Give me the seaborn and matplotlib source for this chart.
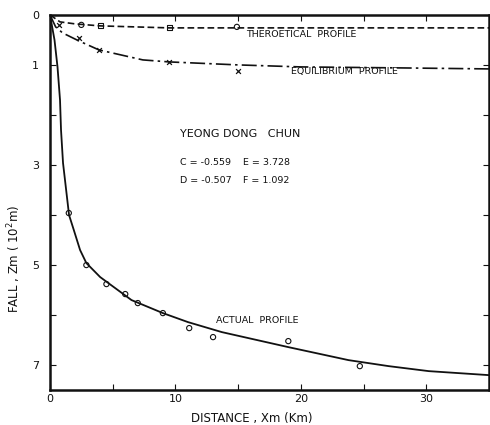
import matplotlib
matplotlib.use("Agg")
import matplotlib.pyplot as plt
import seaborn as sns
import pandas as pd

# ---- data (distance in km, fall in 10^2 m) ----
actual_x = [0.0, 0.36, 0.6, 0.8, 0.88, 1.04, 1.52, 1.9, 2.4, 2.9, 4.0, 6.5, 9.0, 11.0, 13.7, 19.0, 23.8, 27.0, 30.2, 35.0]
actual_fall = [0.0, 0.5, 1.04, 1.7, 2.3, 2.96, 4.0, 4.3, 4.7, 4.96, 5.24, 5.7, 5.96, 6.14, 6.34, 6.64, 6.9, 7.02, 7.12, 7.2]
actual_obs_x = [1.5, 2.9, 4.5, 6.0, 7.0, 9.0, 11.1, 13.0, 19.0, 24.7]
actual_obs_fall = [3.96, 5.0, 5.38, 5.58, 5.76, 5.96, 6.26, 6.44, 6.52, 7.02]

equil_x = [0.0, 0.45, 1.0, 2.3, 3.9, 7.4, 9.5, 15.0, 20.0, 28.0, 35.0]
equil_fall = [0.0, 0.24, 0.36, 0.52, 0.7, 0.9, 0.94, 1.0, 1.04, 1.06, 1.08]
equil_mark_x = [0.75, 2.3, 3.9, 9.5, 15.0]
equil_mark_fall = [0.2, 0.46, 0.7, 0.94, 1.12]

theo_x = [0.0, 0.8, 2.0, 4.0, 9.5, 15.0, 25.0, 35.0]
theo_fall = [0.0, 0.14, 0.18, 0.22, 0.26, 0.26, 0.26, 0.26]
theo_circle_x = [2.5, 14.9]
theo_circle_fall = [0.2, 0.24]
theo_square_x = [4.0, 9.5]
theo_square_fall = [0.22, 0.26]

x_ticks = [0, 10, 20, 30]
x_minor = [5, 15, 25]
y_ticks = [0, 1, 3, 5, 7]
y_minor = [2, 4, 6]

sns.set_theme(style="ticks")
plt.rcParams['font.family'] = ['DejaVu Sans']

fig = plt.figure(figsize=(4.9, 4.25), dpi=100)
ax = fig.add_axes([0.102, 0.082, 0.896, 0.883])

ink = '#111111'

sns.lineplot(x=actual_x, y=actual_fall, ax=ax, color=ink, lw=1.3, estimator=None, sort=False)
sns.scatterplot(x=actual_obs_x, y=actual_obs_fall, ax=ax, marker='o', s=14,
                facecolor='none', edgecolor=ink, linewidth=0.8)

sns.lineplot(x=equil_x, y=equil_fall, ax=ax, color=ink, lw=1.2, estimator=None, sort=False)
ax.lines[-1].set_linestyle((0, (9, 2.5, 1.5, 2.5)))
sns.scatterplot(x=equil_mark_x, y=equil_mark_fall, ax=ax, marker='x', s=12, color=ink, linewidth=0.9)

sns.lineplot(x=theo_x, y=theo_fall, ax=ax, color=ink, lw=1.2, estimator=None, sort=False)
ax.lines[-1].set_linestyle((0, (4, 2)))
sns.scatterplot(x=theo_circle_x, y=theo_circle_fall, ax=ax, marker='o', s=14,
                facecolor='none', edgecolor=ink, linewidth=0.8)
sns.scatterplot(x=theo_square_x, y=theo_square_fall, ax=ax, marker='s', s=12,
                facecolor='none', edgecolor=ink, linewidth=0.8)

ax.set_xlim(0, 35)
ax.set_ylim(7.5, 0)
ax.set_xticks(x_ticks)
ax.set_xticks(x_minor, minor=True)
ax.set_yticks(y_ticks)
ax.set_yticks(y_minor, minor=True)
ax.set_xticklabels([str(v) for v in x_ticks])
ax.set_yticklabels([str(v) for v in y_ticks])
ax.tick_params(which='both', direction='in', top=True, right=True, length=4,
               width=0.8, colors=ink, labelsize=8, pad=3)
ax.tick_params(axis='y', pad=8)
for s in ax.spines.values():
    s.set_linewidth(1.8)
    s.set_color(ink)

ax.set_xlabel("DISTANCE , Xm (Km)", fontsize=8.5, color=ink)
ax.xaxis.set_label_coords(0.46, -0.075)
ax.xaxis.label.set_va('center')
ax.set_ylabel(r"FALL , Zm ( 10$^{2}$m)", fontsize=8.5, color=ink)
ax.yaxis.set_label_coords(-0.082, 0.35)
ax.yaxis.label.set_va('center')

txt = dict(color=ink, ha='left', va='center')
ax.text(15.6, 0.40, "THEROETICAL  PROFILE", fontsize=6.8, **txt)
ax.text(19.2, 1.14, "EQUILIBRIUM  PROFILE", fontsize=6.8, **txt)
ax.text(10.4, 2.38, "YEONG DONG   CHUN", fontsize=8, **txt)
ax.text(10.4, 2.96, "C = -0.559", fontsize=6.8, **txt)
ax.text(15.4, 2.96, "E = 3.728", fontsize=6.8, **txt)
ax.text(10.4, 3.32, "D = -0.507", fontsize=6.8, **txt)
ax.text(15.4, 3.32, "F = 1.092", fontsize=6.8, **txt)
ax.text(13.2, 6.1, "ACTUAL  PROFILE", fontsize=6.8, **txt)

fig.savefig("out.png", dpi=100)
